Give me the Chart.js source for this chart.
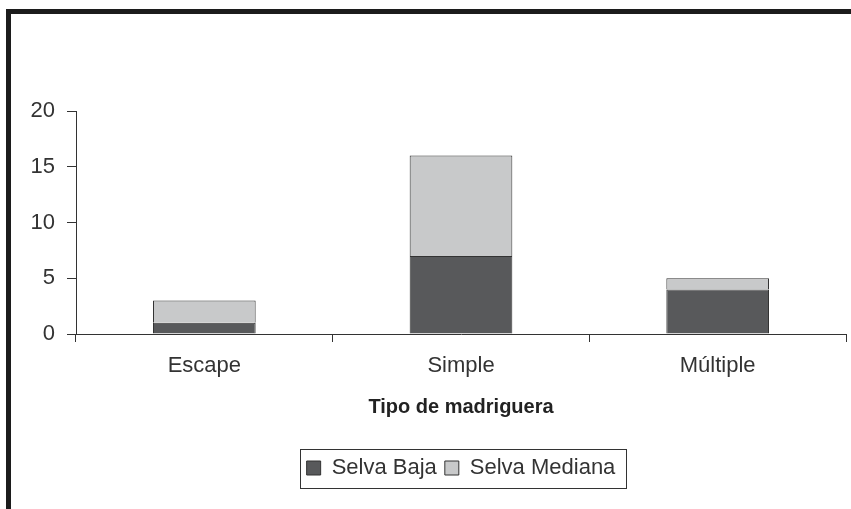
<!DOCTYPE html>
<html>
<head>
<meta charset="utf-8">
<script src="https://cdn.jsdelivr.net/npm/chart.js@4/dist/chart.umd.min.js"></script>
<style>
  body { margin: 0; background: #fff; }
  #wrap { position: relative; width: 851px; height: 509px; overflow: hidden; }
  #frame {
    position: absolute; left: 6px; top: 9px; right: -10px; bottom: -10px;
    border-left: 5px solid #1c1c1c; border-top: 5px solid #1c1c1c;
    pointer-events: none;
  }
  canvas { position: absolute; left: 0; top: 0; }
</style>
</head>
<body>
<div id="wrap">
  <canvas id="chart" width="851" height="509"></canvas>
  <div id="frame"></div>
</div>
<script>
const categories = ['Escape', 'Simple', 'Múltiple'];
const selvaBaja = [1, 7, 4];
const selvaMediana = [2, 9, 1];
const yTicks = [0, 5, 10, 15, 20];

const ink = '#333333';
const font = 'Arial, "Liberation Sans", sans-serif';

// recuadro alrededor de la leyenda, centrada sobre el área del gráfico
const legendBox = {
    id: 'legendBox',
    afterLayout(chart) {
        const lg = chart.legend;
        lg.left = chart.chartArea.left;
        lg.right = chart.chartArea.right;
    },
    afterDraw(chart) {
        const boxes = chart.legend.legendHitBoxes;
        if (!boxes || !boxes.length) return;
        const left = Math.min(...boxes.map(b => b.left));
        const right = Math.max(...boxes.map(b => b.left + b.width));
        const top = Math.min(...boxes.map(b => b.top));
        const bottom = Math.max(...boxes.map(b => b.top + b.height));
        const ctx = chart.ctx;
        ctx.save();
        ctx.strokeStyle = ink;
        ctx.lineWidth = 1;
        ctx.strokeRect(Math.round(left - 7) + 0.5, Math.round(top - 8) + 0.5,
            Math.round(right - left + 17), Math.round(bottom - top + 17));
        ctx.restore();
    }
};

new Chart(document.getElementById('chart'), {
    type: 'bar',
    data: {
        labels: categories,
        datasets: [{
            label: 'Selva Baja',
            data: selvaBaja,
            backgroundColor: '#58595b',
            borderColor: ink,
            borderWidth: 1,
            categoryPercentage: 1,
            barPercentage: 0.4
        }, {
            label: 'Selva Mediana',
            data: selvaMediana,
            backgroundColor: '#c8c9ca',
            borderColor: ink,
            borderWidth: 1,
            categoryPercentage: 1,
            barPercentage: 0.4
        }]
    },
    options: {
        responsive: false,
        animation: false,
        layout: { padding: { top: 111, right: 5, bottom: 20, left: 0 } },
        plugins: {
            tooltip: { enabled: false },
            legend: {
                position: 'bottom',
                labels: {
                    color: ink,
                    font: { family: font, size: 22 },
                    boxWidth: 14,
                    boxHeight: 14,
                    padding: 8
                }
            }
        },
        scales: {
            x: {
                stacked: true,
                afterFit: (s) => { s.height = 115; },
                border: { display: true, color: ink, width: 1 },
                grid: { drawOnChartArea: false, drawTicks: true, tickLength: 8, color: ink, offset: true },
                ticks: { color: ink, font: { family: font, size: 22 }, padding: 11 },
                title: {
                    display: true,
                    text: 'Tipo de madriguera',
                    color: '#222',
                    font: { family: font, size: 20, weight: 'bold' },
                    padding: { top: 4, bottom: 30 }
                }
            },
            y: {
                stacked: true,
                min: 0,
                max: 20,
                afterFit: (s) => { s.width = 76; },
                afterBuildTicks: (s) => { s.ticks = yTicks.map(v => ({ value: v })); },
                border: { display: true, color: ink, width: 1 },
                grid: { drawOnChartArea: false, drawTicks: true, tickLength: 9, color: ink },
                ticks: { color: ink, font: { family: font, size: 22 }, padding: 12 }
            }
        }
    },
    plugins: [legendBox]
});
</script>
</body>
</html>
